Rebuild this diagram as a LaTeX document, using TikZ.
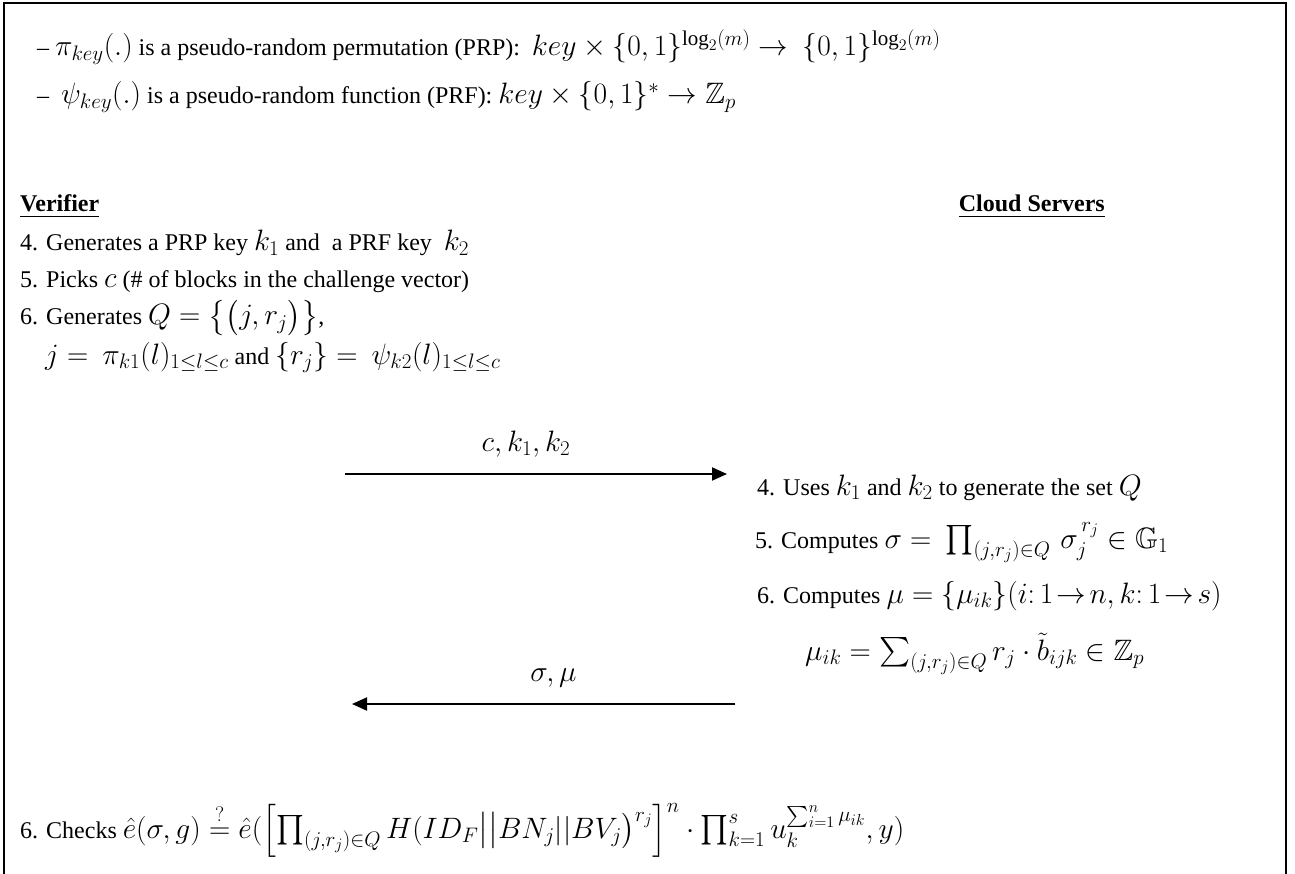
\RequirePackage{fix-cm}
\documentclass[tikz,border=0pt]{standalone}
\usepackage{amsmath,amssymb}
\usepackage{fontspec}
\setmainfont{Liberation Serif}
\DeclareMathSizes{24}{29.5}{21}{16}
\usetikzlibrary{arrows.meta}
\tikzset{txt/.style = {anchor=base west, inner sep=0pt,
                       font=\fontsize{24}{29}\selectfont},
         msg/.style = {-{Triangle[length=15pt,width=13pt]}, line width=2pt}}

\begin{document}
\begin{tikzpicture}[x=1pt, y=-1pt]
    \useasboundingbox (0,0) rectangle (1295,874);
    \draw [line width=2pt] (4,890) -- (4,3) -- (1286,3) -- (1286,890);
    \node [txt] (prp) at (37,56) {-- $\pi_{key}(.)$ is a pseudo-random permutation (PRP):\ \ $key\times\{0,1\}^{\log_2(m)}\rightarrow\ \{0,1\}^{\log_2(m)}$};
    \node [txt] (prf) at (37,104) {--\ \ $\psi_{key}(.)$ is a pseudo-random function (PRF): $key\times\{0,1\}^{*}\rightarrow\mathbb{Z}_p$};
    \node [txt] (ver) at (20,212) {\underline{\textbf{Verifier}}};
    \node [txt, anchor=base east] (cs) at (1105,212) {\underline{\textbf{Cloud Servers}}};
    \node [txt] (v4) at (20,251) {4. Generates a PRP key $k_1$ and\ \ a PRF key\ \ $k_2$};
    \node [txt] (v5) at (20,288) {5. Picks $c$ (\# of blocks in the challenge vector)};
    \node [txt] (v6) at (20,325) {6. Generates $Q=\bigl\{\bigl(j,r_j\bigr)\bigr\}$,};
    \node [txt] (v6b) at (45,364) {$j=\ \pi_{k1}(l)_{1\leq l\leq c}$ and $\{r_j\}=\ \psi_{k2}(l)_{1\leq l\leq c}$};
    \coordinate (c1) at (345,474);
    \coordinate (c2) at (727,474);
    \draw [msg] (c1) -- node [txt, anchor=base, above=16pt, xshift=-10pt] {$c,k_1,k_2$} (c2);
    \node [txt] (s4) at (757,495) {4. Uses $k_1$ and $k_2$ to generate the set $Q$};
    \node [txt] (s5) at (755,548) {5. Computes $\sigma=\ \prod_{(j,r_j)\in Q}\,\sigma_j^{\,r_j}\in\mathbb{G}_1$};
    \node [txt] (s6) at (757,603) {6. Computes $\mu=\{\mu_{ik}\}(i{:}\,1\!\rightarrow\! n,k{:}\,1\!\rightarrow\! s)$};
    \node [txt] (s6b) at (805,660) {$\mu_{ik}=\sum_{(j,r_j)\in Q}r_j\cdot\tilde{b}_{ijk}\in\mathbb{Z}_p$};
    \coordinate (d1) at (735,704);
    \coordinate (d2) at (352,704);
    \draw [msg] (d1) -- node [txt, anchor=base, above=16pt, xshift=10pt] {$\sigma,\mu$} (d2);
    \node [txt] (chk) at (20,838) {6. Checks $\hat{e}(\sigma,g)\overset{?}{=}\hat{e}(\Bigl[\prod_{(j,r_j)\in Q}H(ID_F\big|\big|BN_j||BV_j\bigr)^{r_j}\Bigr]^n\cdot\prod_{k=1}^{s}u_k^{\sum_{i=1}^{n}\mu_{ik}},y)$};
\end{tikzpicture}
\end{document}
